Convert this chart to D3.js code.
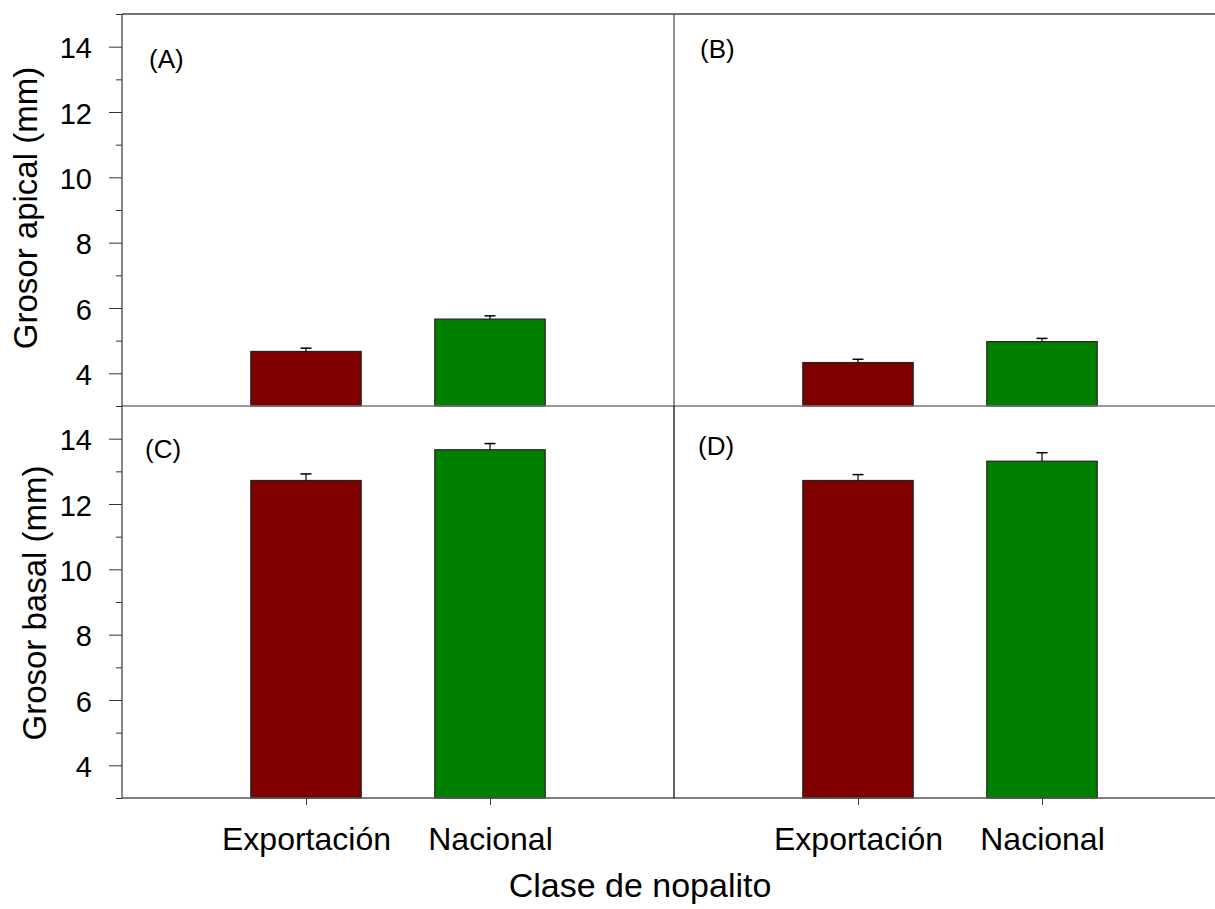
<!DOCTYPE html>
<html>
<head>
<meta charset="utf-8">
<script src="https://cdn.jsdelivr.net/npm/d3@7"></script>
<style>
  body { margin: 0; background: #fff; }
  svg { display: block; font-family: "Liberation Sans", Arial, sans-serif; }
</style>
</head>
<body>
<svg id="chart" width="1215" height="909"></svg>
<script>
// Categories and colours
const categories = ["Exportación", "Nacional"];
const barColors = ["#800000", "#008000"];

// Panel values (mm) and standard errors
const panelLabels = ["(A)", "(B)", "(C)", "(D)"];
const apicalA = [4.67, 5.66];
const apicalAErr = [0.1, 0.1];
const apicalB = [4.33, 4.97];
const apicalBErr = [0.1, 0.1];
const basalC = [12.72, 13.66];
const basalCErr = [0.2, 0.19];
const basalD = [12.72, 13.31];
const basalDErr = [0.18, 0.26];

const yTicksMajor = [4, 6, 8, 10, 12, 14];
const yTicksMinor = [3, 5, 7, 9, 11, 13, 15];

const svg = d3.select("#chart");

const plotLeft = 122, panelW = 552, plotTop = 14, panelH = 392;

const panels = [
  {label: panelLabels[0], vals: apicalA, errs: apicalAErr, col: 0, row: 0, lx: 27, ly: 54},
  {label: panelLabels[1], vals: apicalB, errs: apicalBErr, col: 1, row: 0, lx: 26, ly: 44},
  {label: panelLabels[2], vals: basalC, errs: basalCErr, col: 0, row: 1, lx: 23, ly: 52},
  {label: panelLabels[3], vals: basalD, errs: basalDErr, col: 1, row: 1, lx: 24, ly: 49}
];

const x = d3.scaleLinear().domain([0, 3]).range([0, panelW]);
const barW = x(0.6) - x(0);
const y = d3.scaleLinear().domain([3, 15]).range([panelH, 0]);

panels.forEach(p => {
  const g = svg.append("g")
    .attr("transform", `translate(${plotLeft + p.col * panelW},${plotTop + p.row * panelH})`);

  g.selectAll("rect.bar").data(p.vals).enter().append("rect")
    .attr("class", "bar")
    .attr("x", (d, i) => x(i + 1) - barW / 2)
    .attr("y", d => y(d))
    .attr("width", barW)
    .attr("height", d => y(3) - y(d))
    .attr("fill", (d, i) => barColors[i])
    .attr("stroke", "#222")
    .attr("stroke-width", 1.2);

  // Error bars (upper side only)
  p.vals.forEach((v, i) => {
    const cx = x(i + 1);
    g.append("line")
      .attr("x1", cx).attr("x2", cx)
      .attr("y1", y(v)).attr("y2", y(v + p.errs[i]))
      .attr("stroke", "#000").attr("stroke-width", 1.2);
    g.append("line")
      .attr("x1", cx - 5.5).attr("x2", cx + 5.5)
      .attr("y1", y(v + p.errs[i])).attr("y2", y(v + p.errs[i]))
      .attr("stroke", "#000").attr("stroke-width", 1.5);
  });

  g.append("text")
    .attr("x", p.lx)
    .attr("y", p.ly)
    .attr("font-size", 26)
    .attr("fill", "#000")
    .text(p.label);

  // Bottom category ticks
  if (p.row === 1) {
    const ax = d3.axisBottom(x).tickValues([1, 2]).tickSize(7).tickFormat(d => categories[d - 1]);
    const a = g.append("g").attr("transform", `translate(0,${panelH})`).call(ax);
    a.select(".domain").remove();
    a.selectAll("line").attr("stroke", "#333");
    a.selectAll("text").attr("font-size", 32).attr("y", 52).attr("dy", 0).attr("fill", "#000")
      .attr("font-family", "Liberation Sans, Arial, sans-serif");
  }

  // Left axis with major and minor ticks
  if (p.col === 0) {
    const major = d3.axisLeft(y).tickValues(yTicksMajor).tickSize(13).tickPadding(17);
    const a = g.append("g").call(major);
    a.select(".domain").remove();
    a.selectAll("line").attr("stroke", "#333");
    a.selectAll("text").attr("font-size", 29).attr("dy", "0.38em").attr("fill", "#000")
      .attr("font-family", "Liberation Sans, Arial, sans-serif");
    const minor = d3.axisLeft(y).tickValues(yTicksMinor).tickSize(6).tickFormat("");
    const m = g.append("g").call(minor);
    m.select(".domain").remove();
    m.selectAll("line").attr("stroke", "#333");
  }
});

// Frame lines
const plotRight = 1215;
const lineAttr = (sel, c) => sel.attr("stroke", c).attr("stroke-width", 1.3);
lineAttr(svg.append("line").attr("x1", plotLeft).attr("x2", plotRight).attr("y1", plotTop).attr("y2", plotTop), "#444");
lineAttr(svg.append("line").attr("x1", plotLeft).attr("x2", plotRight).attr("y1", plotTop + panelH).attr("y2", plotTop + panelH), "#777");
lineAttr(svg.append("line").attr("x1", plotLeft).attr("x2", plotRight).attr("y1", plotTop + 2 * panelH).attr("y2", plotTop + 2 * panelH), "#555");
lineAttr(svg.append("line").attr("x1", plotLeft).attr("x2", plotLeft).attr("y1", plotTop).attr("y2", plotTop + 2 * panelH), "#444");
lineAttr(svg.append("line").attr("x1", plotLeft + panelW).attr("x2", plotLeft + panelW).attr("y1", plotTop).attr("y2", plotTop + panelH), "#555");
lineAttr(svg.append("line").attr("x1", plotLeft + panelW).attr("x2", plotLeft + panelW).attr("y1", plotTop + panelH).attr("y2", plotTop + 2 * panelH), "#111");

// Axis titles
svg.append("text")
  .attr("transform", `translate(37,208) rotate(-90)`)
  .attr("text-anchor", "middle").attr("font-size", 33).attr("fill", "#000")
  .text("Grosor apical (mm)");
svg.append("text")
  .attr("transform", `translate(46,603) rotate(-90)`)
  .attr("text-anchor", "middle").attr("font-size", 33).attr("fill", "#000")
  .text("Grosor basal (mm)");
svg.append("text")
  .attr("x", 640).attr("y", 897)
  .attr("text-anchor", "middle").attr("font-size", 34).attr("fill", "#000")
  .text("Clase de nopalito");
</script>
</body>
</html>
